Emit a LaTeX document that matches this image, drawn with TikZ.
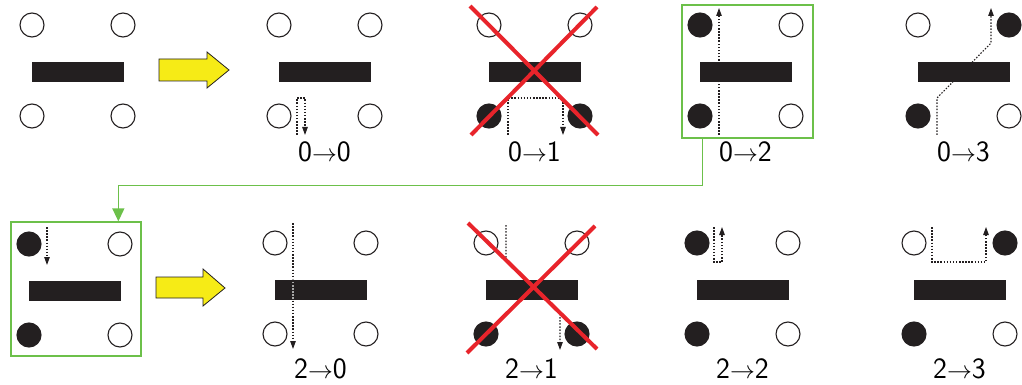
\documentclass[tikz,border=0pt]{standalone}
\usetikzlibrary{arrows.meta,calc}
\definecolor{ink}{HTML}{231F20}
\definecolor{selgreen}{HTML}{6CC04A}
\definecolor{xred}{HTML}{E8242B}
\definecolor{arrowyellow}{HTML}{F6EB16}
\tikzset{
  opencirc/.style={circle,draw=ink,line width=1.1pt,fill=white,minimum size=24pt,inner sep=0pt},
  fullcirc/.style={opencirc,fill=ink},
  barrect/.style={draw=ink,fill=ink,line width=0.6pt,minimum width=91pt,minimum height=19pt,inner sep=0pt},
  movepath/.style={ink,line width=1.1pt,dash pattern=on 1.5pt off 1.6pt,-{Triangle[length=8pt,width=5.5pt]}},
  crossline/.style={xred,line width=4pt},
  selbox/.style={draw=selgreen,line width=1.3pt,inner sep=0pt},
  yarrow/.style={draw=ink,fill=arrowyellow,line width=0.8pt,line join=miter},
  steplabel/.style={font=\fontsize{29.5}{32}\selectfont\sffamily,inner sep=0pt}
}
% one board: four holes and the middle bar
% #1 name, #2 #3 top-left hole, #4..#7 styles of tl, tr, bl, br
\newcommand\board[7]{%
  \node[#4] (#1-tl) at (#2,#3) {};
  \node[#5] (#1-tr) at ({#2+91},#3) {};
  \node[#6] (#1-bl) at (#2,{#3+91}) {};
  \node[#7] (#1-br) at ({#2+91},{#3+91}) {};
  \node[barrect] (#1-bar) at ({#2+45.5},{#3+46.5}) {};
}
\begin{document}
\begin{tikzpicture}[x=1pt,y=-1pt]
\useasboundingbox (0,0) rectangle (1022,385);

% moves that pass behind the bars
\draw[movepath] (297,135) -- (297,98) -- (305,98) -- (305,135);
\draw[movepath] (508,135) -- (508,98) -- (563,98) -- (563,135);
\draw[movepath] (719,135) -- (719,8);
\draw[movepath] (937,135) -- (937,98) -- (991,43) -- (991,8);
\draw[movepath] (47,227) -- (47,265);
\draw[movepath] (506,225) -- (506,259) -- (560,312) -- (560,350);
\draw[movepath] (714,227) -- (714,262) -- (722,262) -- (722,227);
\draw[movepath] (932,227) -- (932,262) -- (986,262) -- (986,227);

% top row
\board{s}{32}{25}{opencirc}{opencirc}{opencirc}{opencirc}
\board{a}{279}{25}{opencirc}{opencirc}{opencirc}{opencirc}
\board{b}{489}{25}{opencirc}{opencirc}{fullcirc}{fullcirc}
\board{c}{700}{25}{fullcirc}{opencirc}{fullcirc}{opencirc}
\board{d}{918}{25}{opencirc}{fullcirc}{fullcirc}{opencirc}

% bottom row
\board{t}{29}{244}{fullcirc}{opencirc}{fullcirc}{opencirc}
\board{e}{275}{243}{opencirc}{opencirc}{opencirc}{opencirc}
\board{f}{486}{243}{opencirc}{opencirc}{fullcirc}{fullcirc}
\board{g}{697}{243}{fullcirc}{opencirc}{fullcirc}{opencirc}
\board{h}{914}{243}{opencirc}{fullcirc}{fullcirc}{opencirc}

% move drawn over its bar
\draw[movepath] (293,223) -- (293,349);
\begin{scope}
  \clip (e-bar.south west) rectangle (e-bar.north east);
  \draw[gray!70,line width=1.1pt,dash pattern=on 1.5pt off 1.6pt] (293,223) -- (293,349);
\end{scope}

% yellow arrows
\draw[yarrow] (159,59) -- (207,59) -- (207,52) -- (229,70) -- (207,88) -- (207,81) -- (159,81) -- cycle;
\draw[yarrow] (156,277) -- (203,277) -- (203,269) -- (225,288) -- (203,306) -- (203,298) -- (156,298) -- cycle;

% crossed-out moves
\draw[crossline] (470,6) -- (598,135);
\draw[crossline] (597,7) -- (471,135);
\draw[crossline] (468,223) -- (597,349);
\draw[crossline] (595,226) -- (467,353);

% selected state and its link
\node[selbox,minimum width=131pt,minimum height=133pt] (box02) at (747.5,71.5) {};
\node[selbox,minimum width=130pt,minimum height=134pt] (box20) at (76,289) {};
\draw[selgreen,line width=1.3pt,-{Triangle[length=13pt,width=12pt]}]
  ([xshift=21pt]box02.south west) |- ([xshift=108pt,yshift=36pt]box20.north west)
  -- ([xshift=108pt]box20.north west);

% labels
\node[steplabel] (la) at (324.5,152) {0$\rightarrow$0};
\node[steplabel] (lb) at (534.5,152) {0$\rightarrow$1};
\node[steplabel] (lc) at (745.5,152) {0$\rightarrow$2};
\node[steplabel] (ld) at (963.5,152) {0$\rightarrow$3};
\node[steplabel] (le) at (320.5,369) {2$\rightarrow$0};
\node[steplabel] (lf) at (531.5,369) {2$\rightarrow$1};
\node[steplabel] (lg) at (742.5,369) {2$\rightarrow$2};
\node[steplabel] (lh) at (959.5,369) {2$\rightarrow$3};
\end{tikzpicture}
\end{document}
